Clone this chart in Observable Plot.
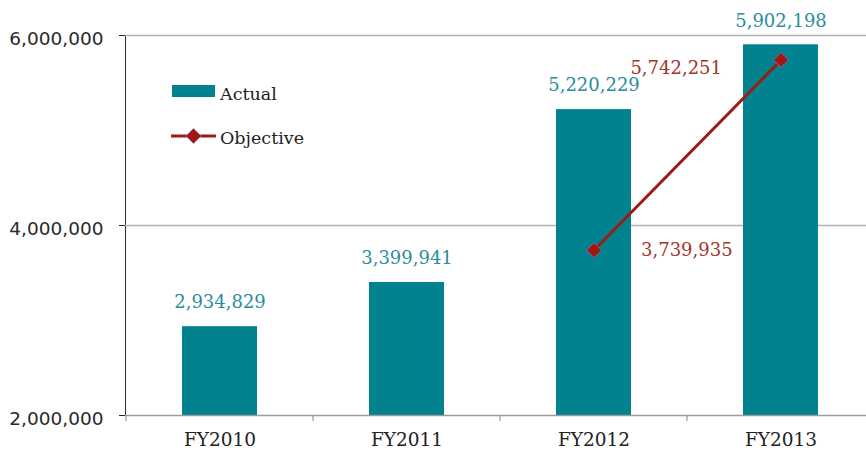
<!DOCTYPE html>
<html>
<head>
<meta charset="utf-8">
<script src="https://cdn.jsdelivr.net/npm/d3@7"></script>
<script src="https://cdn.jsdelivr.net/npm/@observablehq/plot@0.6"></script>
<style>
  html, body { margin: 0; padding: 0; background: white; }
  #chart svg { display: block; }
</style>
</head>
<body>
<div id="chart"></div>
<script>
const categories = ["FY2010", "FY2011", "FY2012", "FY2013"];
const actual = [2934829, 3399941, 5220229, 5902198];
const objectiveCategories = ["FY2012", "FY2013"];
const objective = [3739935, 5742251];
const yTicks = [2000000, 4000000, 6000000];
const gridTicks = [4000000, 6000000];
const legendLabels = ["Actual", "Objective"];

const TEAL = "#02828f";
const TEAL_TEXT = "#2a8d9c";
const RED = "#9b1c12";
const RED_DOT = "#a5140e";
const RED_TEXT = "#a2332d";
const SERIF = "DejaVu Serif";
const fmt = d3.format(",");

const actualData = categories.map((c, i) => ({category: c, value: actual[i]}));
const objectiveData = objectiveCategories.map((c, i) => ({category: c, value: objective[i]}));
const yMin = yTicks[0];

const chart = Plot.plot({
  width: 866,
  height: 454,
  marginLeft: 125,
  marginRight: 0,
  marginTop: 35,
  marginBottom: 39,
  x: {domain: categories, range: [125, 875], paddingInner: 0.6, paddingOuter: 0.3, axis: null},
  y: {
    domain: [yTicks[0], yTicks[yTicks.length - 1]],
    range: [415, 35],
    axis: "left",
    ticks: yTicks,
    tickFormat: fmt,
    tickSize: 6,
    tickPadding: 16,
    label: null,
    line: true
  },
  style: {fontFamily: "DejaVu Sans", fontSize: "18.5px", color: "#2a2a2a", background: "white", overflow: "visible"},
  marks: [
    Plot.ruleY(gridTicks, {stroke: "#b3b3b3", strokeWidth: 1.5}),
    Plot.barY(actualData, {x: "category", y1: yMin, y2: "value", fill: TEAL}),
    Plot.ruleY([yMin], {stroke: "#9a9a9a", strokeWidth: 1.5}),
    Plot.text(actualData, {x: "category", y: "value", text: d => fmt(d.value), dy: -24, fill: TEAL_TEXT, fontFamily: SERIF, fontSize: 18}),
    Plot.line(objectiveData, {x: "category", y: "value", stroke: RED, strokeWidth: 3}),
    Plot.dot(objectiveData, {x: "category", y: "value", symbol: "square", r: 6, rotate: 45, fill: RED_DOT, stroke: "#6f78b8", strokeWidth: 0.8}),
    Plot.text(objectiveData.filter(d => d.category === "FY2012"), {x: "category", y: "value", text: d => fmt(d.value), dx: 47, dy: 0, textAnchor: "start", fill: RED_TEXT, fontFamily: SERIF, fontSize: 18}),
    Plot.text(objectiveData.filter(d => d.category === "FY2013"), {x: "category", y: "value", text: d => fmt(d.value), dx: -59, dy: 8, textAnchor: "end", fill: RED_TEXT, fontFamily: SERIF, fontSize: 18}),
    Plot.text(categories, {x: d => d, frameAnchor: "bottom", dy: 30, text: d => d, fill: "#222", fontFamily: SERIF, fontSize: 18.5})
  ]
});

document.getElementById("chart").appendChild(chart);

const svg = d3.select(chart);

// nudge y tick labels slightly below their ticks, as in the reference
svg.selectAll('g[aria-label="y-axis tick label"]').each(function() {
  const g = d3.select(this);
  const t = g.attr("transform") || "";
  g.attr("transform", (t + " translate(0,4)").trim());
});

// x-axis tick marks at band boundaries
const xs = chart.scale("x");
const bandStep = xs.step;
const tickG = svg.append("g").attr("stroke", "#9a9a9a").attr("stroke-width", 1.2);
categories.forEach(c => {
  const x0 = xs.apply(c) - (bandStep - xs.bandwidth) / 2;
  tickG.append("line").attr("x1", x0).attr("x2", x0).attr("y1", 415).attr("y2", 421);
});

// legend
const leg = svg.append("g").attr("text-anchor", "start");
leg.append("rect").attr("x", 172).attr("y", 85).attr("width", 43).attr("height", 12).attr("fill", TEAL);
leg.append("text").attr("x", 220).attr("y", 100).attr("text-anchor", "start").attr("font-family", SERIF).attr("font-size", 17.5).attr("fill", "#222").text(legendLabels[0]);
leg.append("line").attr("x1", 171).attr("x2", 216).attr("y1", 136).attr("y2", 136).attr("stroke", RED).attr("stroke-width", 3);
leg.append("rect").attr("x", -5.3).attr("y", -5.3).attr("width", 10.6).attr("height", 10.6)
  .attr("transform", "translate(193.5,136) rotate(45)")
  .attr("fill", RED_DOT).attr("stroke", "#6f78b8").attr("stroke-width", 0.8);
leg.append("text").attr("x", 220).attr("y", 144).attr("text-anchor", "start").attr("font-family", SERIF).attr("font-size", 17.5).attr("fill", "#222").text(legendLabels[1]);
</script>
</body>
</html>
